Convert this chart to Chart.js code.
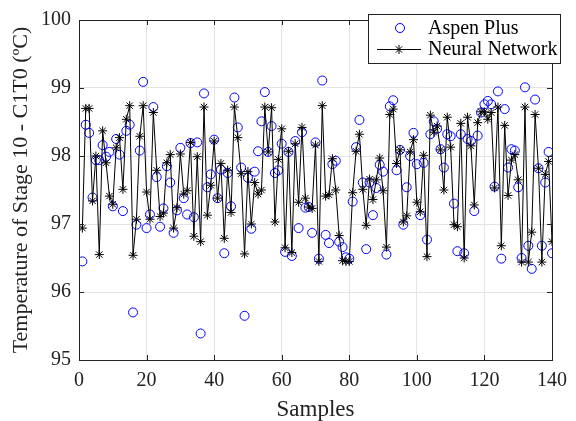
<!DOCTYPE html>
<html>
<head>
<meta charset="utf-8">
<script src="https://cdn.jsdelivr.net/npm/chart.js@4.4.1/dist/chart.umd.min.js"></script>
<style>
  html, body { margin: 0; padding: 0; background: #fff; }
  canvas { display: block; }
</style>
</head>
<body>
<canvas id="chart" width="576" height="421"></canvas>
<script>
// stage 10 temperature per sample, simulator vs. trained network
const aspenPlus = [
  96.45, 98.46, 98.34, 97.39, 97.94, 97.94, 98.16, 97.99, 98.06, 97.26,
  98.25, 98.02, 97.19, 98.37, 98.46, 95.70, 96.99, 98.08, 99.09, 96.94,
  97.14, 98.72, 97.69, 96.96, 97.23, 97.85, 97.61, 96.87, 97.20, 98.12,
  97.38, 97.14, 98.19, 97.10, 98.20, 95.39, 98.92, 97.54, 97.73, 98.24,
  97.38, 97.80, 96.57, 97.75, 97.26, 98.86, 98.42, 97.83, 95.65, 97.68,
  96.93, 97.77, 98.07, 98.51, 98.94, 98.06, 98.44, 97.75, 97.79, 98.18,
  96.59, 98.06, 96.53, 98.22, 96.94, 98.35, 97.24, 97.25, 96.87, 98.20,
  96.49, 99.11, 96.84, 96.72, 97.88, 97.93, 96.74, 96.66, 96.51, 96.49,
  97.33, 98.13, 98.53, 97.61, 96.63, 97.61, 97.13, 97.53, 97.87, 97.77,
  96.55, 98.73, 98.82, 97.79, 98.09, 96.99, 97.54, 98.00, 98.34, 97.88,
  97.13, 97.90, 96.77, 98.32, 98.51, 98.40, 98.10, 97.83, 98.32, 98.29,
  97.30, 96.60, 98.32, 96.57, 98.25, 98.22, 97.19, 98.30, 98.64, 98.76,
  98.81, 98.76, 97.55, 98.95, 96.49, 98.69, 97.83, 98.10, 98.08, 97.54,
  96.50, 99.01, 96.68, 96.34, 98.83, 97.82, 96.68, 97.61, 98.06, 96.57
];

const neuralNet = [
  96.94, 98.70, 98.70, 97.34, 98.00, 96.55, 98.37, 97.90, 97.41, 97.29,
  98.12, 98.27, 97.51, 98.54, 98.74, 96.54, 97.07, 98.29, 98.74, 97.47,
  97.07, 98.64, 97.79, 97.11, 97.16, 97.90, 98.02, 96.94, 97.24, 98.03,
  97.44, 97.49, 98.20, 96.82, 97.99, 96.74, 98.72, 97.13, 97.57, 98.22,
  97.38, 97.89, 96.79, 97.79, 97.17, 98.72, 98.27, 97.74, 96.56, 97.77,
  97.00, 97.61, 97.44, 97.50, 98.72, 98.06, 98.71, 97.03, 97.95, 98.40,
  96.65, 98.07, 96.58, 98.18, 97.32, 98.42, 97.38, 97.25, 97.23, 98.16,
  96.45, 98.74, 97.41, 97.43, 97.96, 97.50, 96.83, 96.46, 96.45, 96.45,
  97.46, 98.07, 98.32, 97.51, 96.98, 97.66, 97.36, 97.65, 97.97, 97.49,
  96.66, 98.61, 98.69, 97.89, 98.09, 97.03, 97.12, 98.06, 98.24, 97.32,
  97.18, 98.01, 96.52, 98.60, 98.35, 98.44, 98.09, 97.50, 98.57, 98.13,
  96.99, 96.96, 98.48, 96.50, 98.57, 98.15, 97.28, 98.49, 98.65, 98.65,
  98.54, 98.64, 97.53, 98.72, 96.68, 98.45, 97.42, 97.94, 98.02, 97.65,
  96.44, 98.72, 96.44, 96.88, 98.61, 97.82, 96.44, 97.73, 97.92, 96.74
];

const seriesNames = ["Aspen Plus", "Neural Network"];
const xTicks = [0, 20, 40, 60, 80, 100, 120, 140];
const yTicks = [95, 96, 97, 98, 99, 100];

const serif = "'Liberation Serif', 'Times New Roman', serif";
const toPoints = (arr) => arr.map((v, i) => ({ x: i + 1, y: v }));

// box around the axes with MATLAB-style inward ticks, plus the legend
const framePlugin = {
  id: "frame",
  afterDraw(chart) {
    const ctx = chart.ctx;
    const a = chart.chartArea;
    const xs = chart.scales.x, ys = chart.scales.y;
    const tl = 5;
    ctx.save();
    ctx.strokeStyle = "#222";
    ctx.lineWidth = 1;
    ctx.beginPath();
    xTicks.forEach((t) => {
      const px = Math.round(xs.getPixelForValue(t)) + 0.5;
      ctx.moveTo(px, a.bottom); ctx.lineTo(px, a.bottom - tl);
      ctx.moveTo(px, a.top); ctx.lineTo(px, a.top + tl);
    });
    yTicks.forEach((t) => {
      const py = Math.round(ys.getPixelForValue(t)) + 0.5;
      ctx.moveTo(a.left, py); ctx.lineTo(a.left + tl, py);
      ctx.moveTo(a.right, py); ctx.lineTo(a.right - tl, py);
    });
    ctx.stroke();
    ctx.strokeRect(Math.round(a.left) + 0.5, Math.round(a.top) + 0.5,
      Math.round(a.right - a.left), Math.round(a.bottom - a.top));

    // legend box
    const lx = 368.5, ly = 14.5, lw = 192, lh = 49;
    ctx.fillStyle = "#fff";
    ctx.fillRect(lx, ly, lw, lh);
    ctx.strokeStyle = "#222";
    ctx.strokeRect(lx, ly, lw, lh);

    ctx.font = "20px " + serif;
    ctx.fillStyle = "#000";
    ctx.textBaseline = "middle";
    ctx.textAlign = "left";

    ctx.strokeStyle = "#0000ff";
    ctx.beginPath();
    ctx.arc(400, 28, 4.5, 0, Math.PI * 2);
    ctx.stroke();
    ctx.fillText(seriesNames[0], 428, 29);

    ctx.strokeStyle = "#000";
    ctx.beginPath();
    ctx.moveTo(377, 49.5); ctx.lineTo(421, 49.5);
    ctx.stroke();
    ctx.beginPath();
    const r = 4.5;
    for (let k = 0; k < 4; k++) {
      const ang = k * Math.PI / 4;
      ctx.moveTo(399 + r * Math.cos(ang), 49.5 + r * Math.sin(ang));
      ctx.lineTo(399 - r * Math.cos(ang), 49.5 - r * Math.sin(ang));
    }
    ctx.stroke();
    ctx.fillText(seriesNames[1], 428, 50);
    ctx.restore();
  }
};

new Chart(document.getElementById("chart"), {
  type: "line",
  data: {
    datasets: [
      {
        label: seriesNames[0],
        data: toPoints(aspenPlus),
        showLine: false,
        pointStyle: "circle",
        pointRadius: 4.5,
        pointBorderWidth: 1,
        pointBorderColor: "#0000ff",
        pointBackgroundColor: "rgba(0,0,0,0)",
        order: 2
      },
      {
        label: seriesNames[1],
        data: toPoints(neuralNet),
        borderColor: "#000",
        borderWidth: 1,
        tension: 0,
        pointStyle: "star",
        pointRadius: 4.5,
        pointBorderWidth: 1,
        pointBorderColor: "#000",
        pointBackgroundColor: "#000",
        order: 1
      }
    ]
  },
  options: {
    responsive: false,
    animation: false,
    events: [],
    layout: { padding: { top: 14, right: 16, left: 0, bottom: 0 } },
    plugins: { legend: { display: false }, tooltip: { enabled: false } },
    scales: {
      x: {
        type: "linear",
        min: 0,
        max: 140,
        afterFit: (s) => { s.height = 61; },
        afterBuildTicks: (s) => { s.ticks = xTicks.map((v) => ({ value: v })); },
        grid: { color: "#e4e4e4", drawTicks: false },
        border: { display: false },
        ticks: { color: "#222", padding: 9, font: { family: serif, size: 20 } },
        title: {
          display: true,
          text: "Samples",
          color: "#222",
          padding: { top: 0, bottom: 0 },
          font: { family: serif, size: 23, lineHeight: 1.0 }
        }
      },
      y: {
        min: 95,
        max: 100,
        afterFit: (s) => { s.width = 79; },
        afterBuildTicks: (s) => { s.ticks = yTicks.map((v) => ({ value: v })); },
        grid: { color: "#e4e4e4", drawTicks: false },
        border: { display: false },
        ticks: { color: "#222", padding: 8, font: { family: serif, size: 20 } },
        title: {
          display: true,
          text: "Temperature of Stage 10 - C1T0 (ºC)",
          color: "#222",
          padding: { top: 8, bottom: 0 },
          font: { family: serif, size: 22, lineHeight: 1.2 }
        }
      }
    }
  },
  plugins: [framePlugin]
});
</script>
</body>
</html>
